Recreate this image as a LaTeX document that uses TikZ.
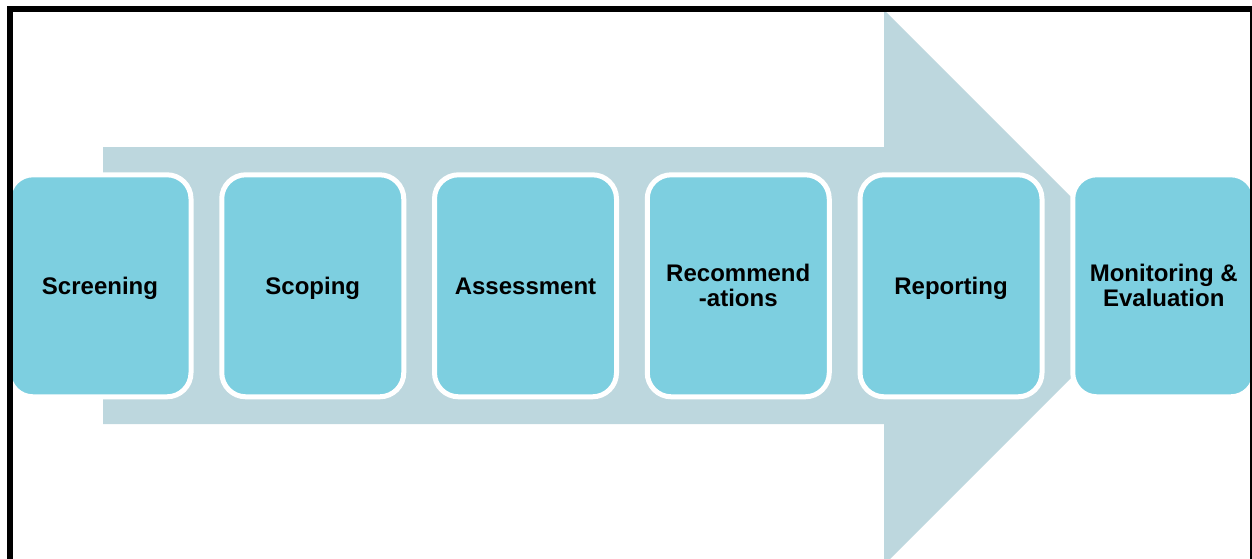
\documentclass[tikz,border=0pt]{standalone}
\usepackage{fontspec}
\setmainfont{Liberation Sans}
\definecolor{boxfill}{HTML}{7DCFE0}
\definecolor{arrowfill}{HTML}{BDD7DE}
\begin{document}
\begin{tikzpicture}[x=1pt,y=-1pt,
  stage/.style={rectangle, rounded corners=24pt, fill=boxfill, draw=white,
    line width=5pt, minimum width=182pt, minimum height=222pt, inner sep=0pt,
    align=center, font=\fontsize{24}{25}\selectfont\bfseries, text=black},
  oneline/.style={text depth=0pt}]
\useasboundingbox (0,0) rectangle (1252,559);
\begin{scope}
\clip (0,0) rectangle (1252,559);
\fill[arrowfill] (103,147) -- (884,147) -- (884,10) -- (1161.5,287.5)
  -- (884,565) -- (884,424) -- (103,424) -- cycle;
\node[stage,oneline] (s1) at (100,285.8) {Screening};
\node[stage,oneline] (s2) at (312.75,285.8) {Scoping};
\node[stage,oneline] (s3) at (525.5,285.8) {Assessment};
\node[stage] (s4) at (738.25,285.8) {Recommend\\-ations};
\node[stage,oneline] (s5) at (951,285.8) {Reporting};
\node[stage] (s6) at (1163.75,285.8) {Monitoring \&\\Evaluation};
\draw[line width=6pt] (10,9) rectangle (1253,600);
\end{scope}
\end{tikzpicture}
\end{document}
